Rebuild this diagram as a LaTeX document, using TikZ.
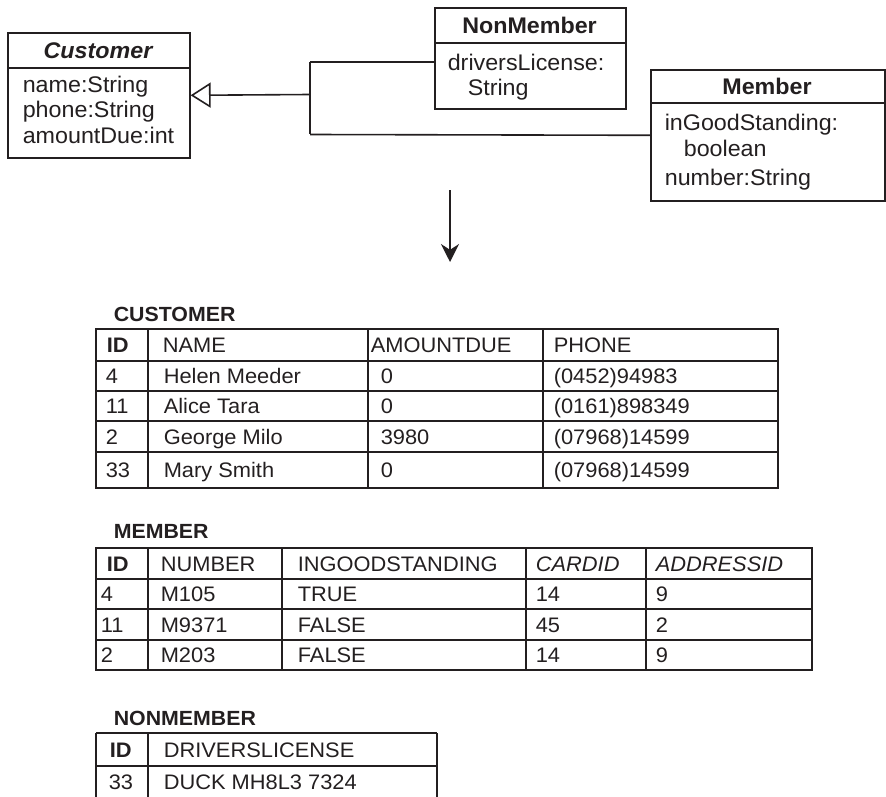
\documentclass[tikz,border=0pt]{standalone}
\usepackage{fontspec}
\setmainfont{Liberation Sans}
\newfontfamily\umlf[FakeStretch=1.03]{Liberation Sans}
\newfontfamily\tblf[FakeStretch=1.04]{Liberation Sans}
\usetikzlibrary{arrows.meta}
\definecolor{ink}{HTML}{231F20}
\begin{document}
\begin{tikzpicture}[x=1pt,y=-1pt,line width=1.6pt,color=ink,
  box/.style={draw,rectangle,inner sep=0pt,anchor=north west},
  umlt/.style={font=\umlf\fontsize{22.6}{25}\selectfont,inner sep=0pt},
  umlhead/.style={umlt,text height=16.2pt,text depth=0pt},
  attr/.style={umlt,anchor=base west},
  cell/.style={font=\tblf\fontsize{21}{22}\selectfont,anchor=west,inner sep=0pt,text height=15pt,text depth=0pt},
  hcell/.style={cell,font=\tblf\bfseries\fontsize{21}{22}\selectfont},
  icell/.style={cell,font=\tblf\itshape\fontsize{21}{22}\selectfont},
  ttl/.style={font=\tblf\bfseries\fontsize{20.5}{22}\selectfont,anchor=west,inner sep=0pt,text height=14.7pt,text depth=0pt}]
\useasboundingbox (0,0) rectangle (886,797);

% ---------- UML classes ----------
\node[box,minimum width=182pt,minimum height=125pt] (cust) at (7,32) {};
\draw (cust.west |- 0,68) -- (cust.east |- 0,68);
\node[umlhead,font=\umlf\bfseries\itshape\fontsize{22.6}{25}\selectfont] (custT) at (98,50) {Customer};
\node[attr] (ca1) at (22,93) {name:String};
\node[attr] (ca2) at (22,118) {phone:String};
\node[attr] (ca3) at (22,143) {amountDue:int};

\node[box,minimum width=191pt,minimum height=101pt] (nm) at (434,7) {};
\draw (nm.west |- 0,43) -- (nm.east |- 0,43);
\node[umlhead,font=\umlf\bfseries\fontsize{22.6}{25}\selectfont] (nmT) at (529.5,25) {NonMember};
\node[attr] (na1) at (447,71) {driversLicense:};
\node[attr] (na2) at (467,96) {String};

\node[box,minimum width=234pt,minimum height=131pt] (mem) at (650,69) {};
\draw (mem.west |- 0,103) -- (mem.east |- 0,103);
\node[umlhead,font=\umlf\bfseries\fontsize{22.6}{25}\selectfont] (memT) at (767,86) {Member};
\node[attr] (ma1) at (664,131) {inGoodStanding:};
\node[attr] (ma2) at (683,157) {boolean};
\node[attr] (ma3) at (664,185) {number:String};

% generalisation
\coordinate (j) at (310,94.5);
\coordinate (jt) at (310,62);
\coordinate (jb) at (310,134.5);
\draw[-{Triangle[open,length=20pt,width=25pt]}] (j) -- (cust.east);
\draw (jt) -- (jb);
\draw (jt) -- (nm.west |- jt);
\draw (jb) -- (mem.west);

% mapping arrow
\coordinate (d1) at (450,190);
\coordinate (d2) at (450,262);
\draw[line width=1.4pt,-{Stealth[length=18pt,width=18pt]}] (d1) -- (d2);

% ---------- CUSTOMER table ----------
\node[ttl] (tc) at (113,314) {CUSTOMER};
\draw (96,329) rectangle (778,488);
\foreach \y in {361,391,421,452} \draw (96,\y) -- (778,\y);
\foreach \x in {148,368,543} \draw (\x,329) -- (\x,488);
\node[hcell] (c00) at (106,345) {ID};
\node[cell] (c01) at (162,345) {NAME};
\node[cell] (c02) at (370,345) {AMOUNTDUE};
\node[cell] (c03) at (553,345) {PHONE};
\node[cell] (c10) at (105,376) {4};
\node[cell] (c11) at (163,376) {Helen Meeder};
\node[cell] (c12) at (380,376) {0};
\node[cell] (c13) at (553,376) {(0452)94983};
\node[cell] (c20) at (105,406) {11};
\node[cell] (c21) at (163,406) {Alice Tara};
\node[cell] (c22) at (380,406) {0};
\node[cell] (c23) at (553,406) {(0161)898349};
\node[cell] (c30) at (105,436.5) {2};
\node[cell] (c31) at (163,436.5) {George Milo};
\node[cell] (c32) at (380,436.5) {3980};
\node[cell] (c33) at (553,436.5) {(07968)14599};
\node[cell] (c40) at (105,470) {33};
\node[cell] (c41) at (163,470) {Mary Smith};
\node[cell] (c42) at (380,470) {0};
\node[cell] (c43) at (553,470) {(07968)14599};

% ---------- MEMBER table ----------
\node[ttl] (tm) at (113,531) {MEMBER};
\draw (96,548) rectangle (812,670);
\foreach \y in {579,609,640} \draw (96,\y) -- (812,\y);
\foreach \x in {148,282,526,646} \draw (\x,548) -- (\x,670);
\node[hcell] (m00) at (106,563.5) {ID};
\node[cell] (m01) at (160,563.5) {NUMBER};
\node[cell] (m02) at (297,563.5) {INGOODSTANDING};
\node[icell] (m03) at (535,563.5) {CARDID};
\node[icell] (m04) at (655,563.5) {ADDRESSID};
\node[cell] (m10) at (100,594) {4};
\node[cell] (m11) at (160,594) {M105};
\node[cell] (m12) at (297,594) {TRUE};
\node[cell] (m13) at (535,594) {14};
\node[cell] (m14) at (655,594) {9};
\node[cell] (m20) at (100,624.5) {11};
\node[cell] (m21) at (160,624.5) {M9371};
\node[cell] (m22) at (297,624.5) {FALSE};
\node[cell] (m23) at (535,624.5) {45};
\node[cell] (m24) at (655,624.5) {2};
\node[cell] (m30) at (100,655) {2};
\node[cell] (m31) at (160,655) {M203};
\node[cell] (m32) at (297,655) {FALSE};
\node[cell] (m33) at (535,655) {14};
\node[cell] (m34) at (655,655) {9};

% ---------- NONMEMBER table ----------
\node[ttl] (tn) at (113,718) {NONMEMBER};
\draw (96,733) -- (437,733);
\draw (96,766) -- (437,766);
\foreach \x in {96,148,437} \draw (\x,733) -- (\x,797);
\node[hcell] (n00) at (109,749.5) {ID};
\node[cell] (n01) at (163,749.5) {DRIVERSLICENSE};
\node[cell] (n10) at (108,782) {33};
\node[cell] (n11) at (163,782) {DUCK MH8L3 7324};
\end{tikzpicture}
\end{document}
